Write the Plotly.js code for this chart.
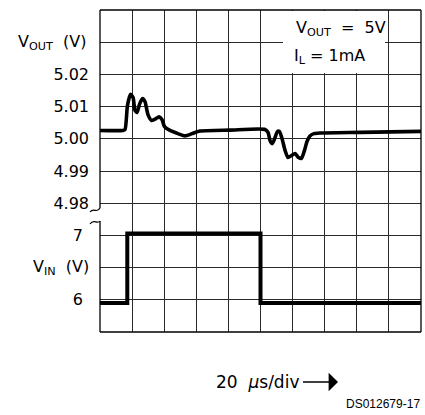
<!DOCTYPE html>
<html>
<head>
<meta charset="utf-8">
<script src="https://cdn.plot.ly/plotly-3.0.1.min.js"></script>
<style>html,body{margin:0;padding:0;background:#fff;}</style>
</head>
<body>
<div id="chart" style="width:425px;height:415px;"></div>
<script>
// V_OUT trace (time in µs, volts)
var voutTime = [0, 14.3, 15.6, 17.1, 19.0, 20.6, 21.8, 23.1, 24.6, 26.5, 28.0, 29.9, 32.1, 34.3, 36.8, 38.6, 40.2, 43.6, 48.6, 53.0, 57.3, 62.3, 81.0, 102.8, 104.7, 105.9, 107.2, 108.4, 110.6, 111.8, 113.4, 115.3, 117.1, 119.3, 121.5, 123.7, 125.5, 127.4, 129.0, 130.8, 133.3, 137.1, 162.0, 200];
var voutVolts = [5.0026, 5.0026, 5.0029, 5.0103, 5.0138, 5.0128, 5.0088, 5.0082, 5.0107, 5.0125, 5.0116, 5.0075, 5.0057, 5.0061, 5.0068, 5.0060, 5.0038, 5.0026, 5.0016, 5.0009, 5.0016, 5.0024, 5.0027, 5.0029, 5.0020, 4.9995, 4.9985, 4.9995, 5.0023, 5.0023, 5.0001, 4.9964, 4.9942, 4.9948, 4.9954, 4.9942, 4.9939, 4.9964, 4.9992, 5.0009, 5.0016, 5.0018, 5.0020, 5.0023];
// V_IN step (time in µs, volts)
var vinTime = [0, 17, 17, 100, 100, 200];
var vinVolts = [5.95, 5.95, 7.03, 7.03, 5.95, 5.95];

// axes
var timeRange = [0, 200];
var timeDiv = 20;
var voutRange = [4.94, 5.04];
var voutDiv = 0.01;
var voutTicks = [4.98, 4.99, 5.00, 5.01, 5.02];
var voutTickText = ['4.98', '4.99', '5.00', '5.01', '5.02'];
var vinRange = [5.5, 10.5];
var vinTicks = [6, 7];
var vinTickText = ['6', '7'];

var FONT = 'DejaVu Sans, Liberation Sans, Arial, sans-serif';
var GRID = '#2a2a2a';

var traces = [
  {x: voutTime, y: voutVolts, type: 'scatter', mode: 'lines', xaxis: 'x', yaxis: 'y',
   line: {color: '#000', width: 3.6, shape: 'spline', smoothing: 0.6}, hoverinfo: 'skip'},
  {x: vinTime, y: vinVolts, type: 'scatter', mode: 'lines', xaxis: 'x', yaxis: 'y2',
   line: {color: '#000', width: 4, shape: 'linear'}, hoverinfo: 'skip'}
];

function px2x(p){ return (p - 100) / 321; }
function py2y(p){ return (332 - p) / 322; }

var borderLine = {color: '#000', width: 1.3};
var shapes = [
  // white label box
  {type: 'rect', xref: 'paper', yref: 'paper', x0: px2x(283), x1: px2x(385), y0: py2y(73), y1: py2y(11),
   fillcolor: '#fff', line: {width: 0}, layer: 'above'},
  // border
  {type: 'line', xref: 'paper', yref: 'paper', x0: 0, x1: 1, y0: 1, y1: 1, line: borderLine, layer: 'above'},
  {type: 'line', xref: 'paper', yref: 'paper', x0: 1, x1: 1, y0: 0, y1: 1, line: borderLine, layer: 'above'},
  {type: 'line', xref: 'paper', yref: 'paper', x0: 0, x1: 1, y0: 0, y1: 0, line: borderLine, layer: 'above'},
  {type: 'line', xref: 'paper', yref: 'paper', x0: 0, x1: 0, y0: py2y(208), y1: 1, line: borderLine, layer: 'above'},
  {type: 'line', xref: 'paper', yref: 'paper', x0: 0, x1: 0, y0: 0, y1: py2y(221), line: borderLine, layer: 'above'},
  // axis break squiggles
  {type: 'path', xref: 'paper', yref: 'paper', layer: 'above', line: {color: '#000', width: 1.2},
   path: 'M ' + px2x(90) + ',' + py2y(212) + ' C ' + px2x(94) + ',' + py2y(207) + ' ' + px2x(97) + ',' + py2y(214) + ' ' + px2x(100) + ',' + py2y(208)},
  {type: 'path', xref: 'paper', yref: 'paper', layer: 'above', line: {color: '#000', width: 1.2},
   path: 'M ' + px2x(90) + ',' + py2y(224) + ' C ' + px2x(94) + ',' + py2y(218) + ' ' + px2x(97) + ',' + py2y(225) + ' ' + px2x(100) + ',' + py2y(221)}
];

var annotations = [
  {xref: 'paper', yref: 'y', x: px2x(88), y: 5.03, xanchor: 'right', yanchor: 'middle', showarrow: false,
   text: 'V<sub>OUT</sub>\u00a0 (V)', font: {family: FONT, size: 16, color: '#000'}},
  {xref: 'paper', yref: 'y2', x: px2x(91), y: 6.5, xanchor: 'right', yanchor: 'middle', showarrow: false,
   text: 'V<sub>IN</sub>\u00a0 (V)', font: {family: FONT, size: 16, color: '#000'}},
  {xref: 'paper', yref: 'paper', x: px2x(294), y: py2y(29), xanchor: 'left', yanchor: 'middle', showarrow: false,
   text: 'V<sub>OUT</sub>\u00a0 =\u00a0 5V', font: {family: FONT, size: 16, color: '#000'}},
  {xref: 'paper', yref: 'paper', x: px2x(292), y: py2y(56), xanchor: 'left', yanchor: 'middle', showarrow: false,
   text: 'I<sub>L</sub>\u00a0= 1mA', font: {family: FONT, size: 16, color: '#000'}},
  {xref: 'paper', yref: 'paper', x: px2x(338), y: py2y(382), ax: -81, ay: 0, axref: 'pixel', ayref: 'pixel',
   showarrow: true, arrowhead: 1, arrowsize: 2.4, arrowwidth: 1.3, arrowcolor: '#000', standoff: 0, startstandoff: 3,
   text: '20\u00a0 <i>µ</i>s/div', font: {family: FONT, size: 17, color: '#000'}},
  {xref: 'paper', yref: 'paper', x: px2x(422), y: py2y(404), xanchor: 'right', yanchor: 'middle', showarrow: false,
   text: 'DS012679-17', font: {family: 'Liberation Sans, Arial, sans-serif', size: 12, color: '#000'}}
];

var layout = {
  width: 425, height: 415,
  margin: {l: 100, r: 4, t: 10, b: 83, pad: 0},
  paper_bgcolor: '#fff', plot_bgcolor: '#fff',
  showlegend: false,
  xaxis: {range: timeRange, tickmode: 'linear', tick0: 0, dtick: timeDiv, showticklabels: false, ticks: '',
          showgrid: true, gridcolor: GRID, gridwidth: 1, zeroline: false, showline: false, fixedrange: true},
  yaxis: {range: voutRange, tickmode: 'array', tickvals: voutTicks, ticktext: voutTickText, ticks: '',
          showgrid: true, gridcolor: GRID, gridwidth: 1, zeroline: false, showline: false,
          minor: {tickmode: 'linear', tick0: voutRange[0], dtick: voutDiv, showgrid: true, gridcolor: GRID, gridwidth: 1, ticks: ''},
          ticklabelstandoff: 10, tickfont: {family: FONT, size: 16, color: '#000'}, fixedrange: true},
  yaxis2: {range: vinRange, tickmode: 'array', tickvals: vinTicks, ticktext: vinTickText, overlaying: 'y', side: 'left',
           ticks: '', showgrid: false, zeroline: false, showline: false,
           ticklabelstandoff: 16, tickfont: {family: FONT, size: 16, color: '#000'}, fixedrange: true},
  shapes: shapes,
  annotations: annotations
};

Plotly.newPlot('chart', traces, layout, {displayModeBar: false, staticPlot: true});
</script>
</body>
</html>
